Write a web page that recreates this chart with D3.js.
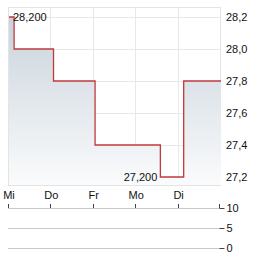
<!DOCTYPE html>
<html>
<head>
<meta charset="utf-8">
<script src="https://cdn.jsdelivr.net/npm/d3@7"></script>
<style>
  body { margin: 0; background: #fff; }
  svg { display: block; font-family: "Liberation Sans", Arial, sans-serif; }
</style>
</head>
<body>
<div id="chart"></div>
<script>
// Daten
const dayLabels = ["Mi", "Do", "Fr", "Mo", "Di"];
const dayPos = [0, 1, 2, 3, 4];
const stepTimes = [0, 0.12, 1.05, 2.03, 3.57, 4.12, 5];
const stepPrices = [28.2, 28.0, 27.8, 27.4, 27.2, 27.8, 27.8];
const priceTicks = [27.2, 27.4, 27.6, 27.8, 28.0, 28.2];
const volumeTicks = [0, 5, 10];
const maxLabel = "28,200";
const minLabel = "27,200";

const W = 264, H = 255;
const plot = { left: 9, right: 221, top: 7, bottom: 185 };

const svg = d3.select("#chart").append("svg")
  .attr("width", W).attr("height", H);

const x = d3.scaleLinear().domain([0, 5]).range([plot.left, plot.right]);
const y = d3.scaleLinear().domain([27.2, 28.2]).range([177, 17]);
const yVol = d3.scaleLinear().domain([0, 10]).range([247.5, 207.5]);

// Verlauf für Fläche
const grad = svg.append("defs").append("linearGradient")
  .attr("id", "fillGrad")
  .attr("gradientUnits", "userSpaceOnUse")
  .attr("x1", 0).attr("y1", 17).attr("x2", 0).attr("y2", plot.bottom);
grad.append("stop").attr("offset", 0).attr("stop-color", "#c9d3dc");
grad.append("stop").attr("offset", 1).attr("stop-color", "#fafbfc");

// Gitter
svg.append("g")
  .selectAll("line")
  .data(priceTicks)
  .join("line")
  .attr("x1", plot.left).attr("x2", plot.right)
  .attr("y1", d => Math.round(y(d)) + 0.5).attr("y2", d => Math.round(y(d)) + 0.5)
  .attr("stroke", "#e8e8e8");

svg.append("g")
  .selectAll("line")
  .data(dayPos.concat([5]))
  .join("line")
  .attr("x1", d => Math.round(x(d)) - 0.5).attr("x2", d => Math.round(x(d)) - 0.5)
  .attr("y1", plot.top).attr("y2", plot.bottom)
  .attr("stroke", "#e8e8e8");

// Rahmen
svg.append("rect")
  .attr("x", plot.left - 0.5).attr("y", plot.top + 0.5)
  .attr("width", plot.right - plot.left).attr("height", plot.bottom - plot.top)
  .attr("fill", "none").attr("stroke", "#e4e4e4");

const data = stepTimes.map((t, i) => ({ t, p: stepPrices[i] }));

// Fläche und Linie
const area = d3.area()
  .curve(d3.curveStepAfter)
  .x(d => x(d.t))
  .y0(plot.bottom)
  .y1(d => y(d.p));

svg.append("path")
  .datum(data)
  .attr("fill", "url(#fillGrad)")
  .attr("d", area);

const line = d3.line()
  .curve(d3.curveStepAfter)
  .x(d => x(d.t))
  .y(d => y(d.p));

svg.append("path")
  .datum(data)
  .attr("fill", "none")
  .attr("stroke", "#c0393b")
  .attr("stroke-width", 1.3)
  .attr("d", line);

// Max/Min Beschriftung
const hi = data[0];
const lo = data[4];
svg.append("text")
  .attr("x", x(hi.t) + 4).attr("y", y(hi.p) + 4)
  .style("font-size", "11px").attr("fill", "#111")
  .text(maxLabel);
svg.append("text")
  .attr("x", x(lo.t) - 3).attr("y", y(lo.p) + 4)
  .attr("text-anchor", "end")
  .style("font-size", "11px").attr("fill", "#111")
  .text(minLabel);

// rechte Preisachse
svg.append("g")
  .selectAll("text")
  .data(priceTicks)
  .join("text")
  .attr("x", 226).attr("y", d => y(d) + 4)
  .style("font-size", "11px").attr("fill", "#111")
  .text(d => d3.format(".1f")(d).replace(".", ","));

// x-Achsen-Beschriftung
svg.append("g")
  .selectAll("text")
  .data(dayPos)
  .join("text")
  .attr("x", d => x(d)).attr("y", 199)
  .attr("text-anchor", "middle")
  .style("font-size", "11px").attr("fill", "#111")
  .text((d, i) => dayLabels[i]);

// Volumenbereich
svg.append("g")
  .selectAll("line")
  .data(volumeTicks)
  .join("line")
  .attr("x1", plot.left - 1).attr("x2", plot.right - 1)
  .attr("y1", d => Math.round(yVol(d)) + 0.5).attr("y2", d => Math.round(yVol(d)) + 0.5)
  .attr("stroke", "#c8c8c8");

// Tick-Striche oben
svg.append("g")
  .selectAll("line")
  .data(dayPos)
  .join("line")
  .attr("x1", d => Math.round(x(d)) - 0.5).attr("x2", d => Math.round(x(d)) - 0.5)
  .attr("y1", 204).attr("y2", 208)
  .attr("stroke", "#444");

const volAxis = svg.append("g")
  .attr("transform", `translate(${plot.right - 1.5},0.5)`)
  .call(d3.axisRight(yVol).tickValues(volumeTicks).tickSize(5).tickPadding(2))
  .call(g => g.select(".domain").remove());
volAxis.selectAll("line").attr("stroke", "#444");
volAxis.selectAll("text")
  .style("font-size", "11px")
  .style("font-family", "'Liberation Sans', Arial, sans-serif")
  .attr("fill", "#111");

svg.append("line")
  .attr("x1", plot.right - 1.5).attr("x2", plot.right - 1.5)
  .attr("y1", 204).attr("y2", 208)
  .attr("stroke", "#444");
</script>
</body>
</html>
